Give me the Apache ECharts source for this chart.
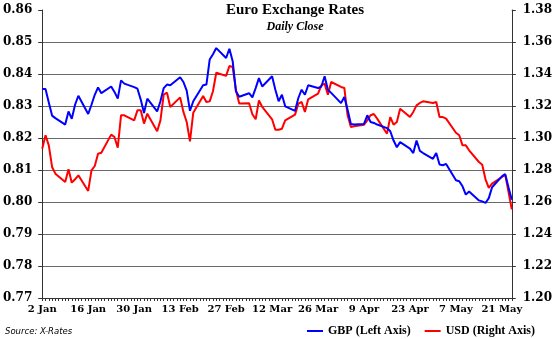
<!DOCTYPE html>
<html>
<head>
<meta charset="utf-8">
<script src="https://cdn.jsdelivr.net/npm/echarts@6/dist/echarts.min.js"></script>
<style>
html,body{margin:0;padding:0;background:#fff;}
#chart{width:555px;height:339px;}
</style>
</head>
<body>
<div id="chart"></div>
<script>
// Business-day dates (2012)
var dates = [
'2012-01-02','2012-01-03','2012-01-04','2012-01-05','2012-01-06',
'2012-01-09','2012-01-10','2012-01-11','2012-01-12','2012-01-13',
'2012-01-16','2012-01-17','2012-01-18','2012-01-19','2012-01-20',
'2012-01-23','2012-01-24','2012-01-25','2012-01-26','2012-01-27',
'2012-01-30','2012-01-31','2012-02-01','2012-02-02','2012-02-03',
'2012-02-06','2012-02-07','2012-02-08','2012-02-09','2012-02-10',
'2012-02-13','2012-02-14','2012-02-15','2012-02-16','2012-02-17',
'2012-02-20','2012-02-21','2012-02-22','2012-02-23','2012-02-24',
'2012-02-27','2012-02-28','2012-02-29','2012-03-01','2012-03-02',
'2012-03-05','2012-03-06','2012-03-07','2012-03-08','2012-03-09',
'2012-03-12','2012-03-13','2012-03-14','2012-03-15','2012-03-16',
'2012-03-19','2012-03-20','2012-03-21','2012-03-22','2012-03-23',
'2012-03-26','2012-03-27','2012-03-28','2012-03-29','2012-03-30',
'2012-04-02','2012-04-03','2012-04-04','2012-04-05','2012-04-06',
'2012-04-09','2012-04-10','2012-04-11','2012-04-12','2012-04-13',
'2012-04-16','2012-04-17','2012-04-18','2012-04-19','2012-04-20',
'2012-04-23','2012-04-24','2012-04-25','2012-04-26','2012-04-27',
'2012-04-30','2012-05-01','2012-05-02','2012-05-03','2012-05-04',
'2012-05-07','2012-05-08','2012-05-09','2012-05-10','2012-05-11',
'2012-05-14','2012-05-15','2012-05-16','2012-05-17','2012-05-18',
'2012-05-21','2012-05-22','2012-05-23','2012-05-24'
];
var gbp = [
0.8353,0.8353,0.8311,0.8270,0.8262,
0.8242,0.8283,0.8260,0.8304,0.8332,
0.8275,0.8304,0.8335,0.8358,0.8340,
0.8361,0.8344,0.8323,0.8380,0.8370,
0.8359,0.8354,0.8320,0.8278,0.8323,
0.8283,0.8315,0.8356,0.8367,0.8365,
0.8390,0.8375,0.8348,0.8285,0.8315,
0.8365,0.8367,0.8445,0.8462,0.8481,
0.8450,0.8479,0.8440,0.8346,0.8329,
0.8340,0.8327,0.8356,0.8387,0.8361,
0.8393,0.8351,0.8315,0.8335,0.8299,
0.8285,0.8325,0.8351,0.8335,0.8365,
0.8356,0.8361,0.8393,0.8351,0.8341,
0.8309,0.8328,0.8288,0.8244,0.8242,
0.8244,0.8271,0.8250,0.8247,0.8242,
0.8231,0.8221,0.8192,0.8171,0.8187,
0.8167,0.8153,0.8192,0.8160,0.8153,
0.8135,0.8153,0.8117,0.8115,0.8119,
0.8068,0.8065,0.8049,0.8023,0.8033,
0.8005,0.8002,0.7997,0.8012,0.8046,
0.8080,0.8087,0.8046,0.8007
];
var usd = [
1.2933,1.3017,1.2954,1.2819,1.2777,
1.2725,1.2804,1.2721,1.2742,1.2767,
1.2669,1.2798,1.2825,1.2902,1.2908,
1.3021,1.3006,1.2940,1.3142,1.3142,
1.3110,1.3173,1.3173,1.3090,1.3152,
1.3042,1.3110,1.3271,1.3283,1.3194,
1.3254,1.3163,1.3100,1.2979,1.3158,
1.3263,1.3225,1.3229,1.3292,1.3408,
1.3388,1.3450,1.3444,1.3298,1.3215,
1.3217,1.3148,1.3117,1.3235,1.3194,
1.3117,1.3052,1.3052,1.3058,1.3110,
1.3146,1.3215,1.3225,1.3163,1.3242,
1.3277,1.3329,1.3340,1.3271,1.3350,
1.3319,1.3313,1.3142,1.3069,1.3073,
1.3083,1.3110,1.3142,1.3150,1.3121,
1.3027,1.3131,1.3083,1.3100,1.3183,
1.3131,1.3163,1.3204,1.3219,1.3229,
1.3219,1.3225,1.3131,1.3131,1.3121,
1.3033,1.3017,1.2954,1.2954,1.2923,
1.2850,1.2833,1.2742,1.2688,1.2715,
1.2756,1.2771,1.2663,1.2554
];
var xTickLabels = ['2 Jan','16 Jan','30 Jan','13 Feb','27 Feb','12 Mar','26 Mar','9 Apr','23 Apr','7 May','21 May'];
var startDate = '2012-01-02';
var endDate = '2012-05-24';

var DAY = 86400000;
var t0 = Date.parse(startDate);
var dayMax = (Date.parse(endDate) - t0) / DAY;
function dayOf(d){ return (Date.parse(d) - t0) / DAY; }
var gbpData = dates.map(function(d,i){ return [dayOf(d), gbp[i]]; });
var usdData = dates.map(function(d,i){ return [dayOf(d), usd[i]]; });

var serif = 'DejaVu Serif';
var serif2 = 'Liberation Serif';
var chart = echarts.init(document.getElementById('chart'), null, {renderer:'canvas'});
chart.setOption({
  animation: false,
  backgroundColor: '#fff',
  title: {
    text: 'Euro Exchange Rates',
    subtext: 'Daily Close',
    left: 290, top: 1, textAlign: 'center', itemGap: 3, padding: [2,5,2,5],
    textStyle: {fontFamily: serif2, fontWeight: 'bold', fontSize: 15, color: '#000'},
    subtextStyle: {fontFamily: serif2, fontWeight: 'bold', fontStyle: 'italic', fontSize: 12, color: '#000'}
  },
  legend: {
    left: 307, top: 325, padding: 0,
    icon: 'rect', itemWidth: 16, itemHeight: 2, itemGap: 14,
    textStyle: {fontFamily: serif2, fontWeight: 'bold', fontSize: 12, color: '#000'},
    data: ['GBP (Left Axis)', 'USD (Right Axis)']
  },
  graphic: [{
    type: 'text', left: 5, top: 327,
    style: {text: 'Source: X-Rates', font: 'italic 8.5px "DejaVu Sans"', fill: '#000'}
  }],
  grid: {left: 41, right: 39, top: 10, bottom: 41, containLabel: false},
  xAxis: {
    type: 'value', min: 0, max: dayMax, interval: 1,
    axisLine: {lineStyle: {color: '#333', width: 1}},
    axisTick: {length: 3, lineStyle: {color: '#333'}},
    splitLine: {show: false},
    axisLabel: {
      margin: 6, fontFamily: serif, fontWeight: 'bold', fontSize: 10, color: '#000',
      formatter: function(v){ return (v % 14 === 0) ? (xTickLabels[v/14] || '') : ''; }
    }
  },
  yAxis: [{
    type: 'value', min: 0.77, max: 0.86, interval: 0.01, position: 'left',
    axisLine: {show: true, lineStyle: {color: '#333', width: 1}},
    axisTick: {show: true, length: 4, lineStyle: {color: '#333'}},
    splitLine: {show: true, showMaxLine: false, showMinLine: false, lineStyle: {color: '#6a6a6a', width: 1}},
    axisLabel: {margin: 10, fontFamily: serif, fontWeight: 'bold', fontSize: 12, color: '#000',
      formatter: function(v){ return v.toFixed(2); }}
  },{
    type: 'value', min: 1.20, max: 1.38, interval: 0.02, position: 'right',
    axisLine: {show: true, lineStyle: {color: '#333', width: 1}},
    axisTick: {show: true, length: 4, lineStyle: {color: '#333'}},
    splitLine: {show: false},
    axisLabel: {margin: 11, fontFamily: serif, fontWeight: 'bold', fontSize: 12, color: '#000',
      formatter: function(v){ return v.toFixed(2); }}
  }],
  series: [{
    name: 'GBP (Left Axis)', type: 'line', yAxisIndex: 0, data: gbpData,
    showSymbol: false, symbol: 'none', color: '#0000ff',
    lineStyle: {color: '#0000ff', width: 2}, z: 3
  },{
    name: 'USD (Right Axis)', type: 'line', yAxisIndex: 1, data: usdData,
    showSymbol: false, symbol: 'none', color: '#ff0000',
    lineStyle: {color: '#ff0000', width: 2}, z: 2
  }]
});
</script>
</body>
</html>
